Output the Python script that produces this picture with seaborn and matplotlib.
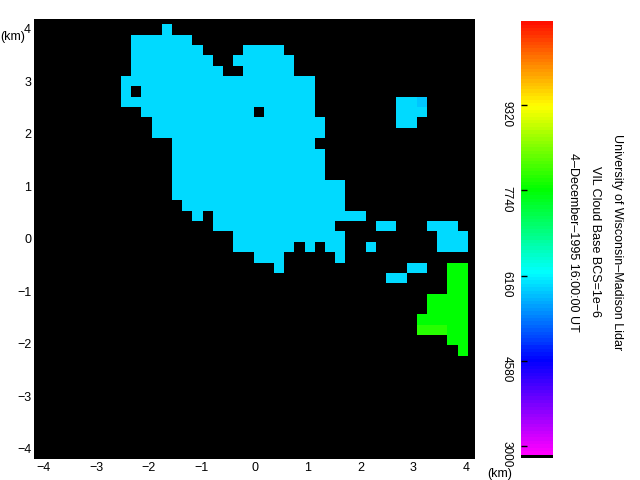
import numpy as np
import pandas as pd
import matplotlib
matplotlib.use("Agg")
import matplotlib.pyplot as plt
from matplotlib.colors import LinearSegmentedColormap, ListedColormap
import seaborn as sns

# --- Data: cloud base grid, one character per cell, top row first ---
# . = no return, c = cyan, d = darker cyan, g = green, l = light green
GRID_ROWS = [
    "............................................",
    ".............c..............................",
    "..........cccccc............................",
    "..........ccccccc....cccc...................",
    "..........cccccccc..cccccc..................",
    "..........ccccccccc..ccccc..................",
    ".........ccccccccccccccccccc................",
    ".........c.ccccccccccccccccc................",
    ".........ccccccccccccccccccc........ccd.....",
    "...........ccccccccccc.ccccc........ccc.....",
    "............ccccccccccccccccc.......cc......",
    "............ccccccccccccccccc...............",
    "..............cccccccccccccc................",
    "..............ccccccccccccccc...............",
    "..............ccccccccccccccc...............",
    "..............ccccccccccccccc...............",
    "..............ccccccccccccccccc.............",
    "..............ccccccccccccccccc.............",
    "...............cccccccccccccccc.............",
    "................c.ccccccccccccccc...........",
    "..................cccccccccccc....cc...ccc..",
    "....................ccccccccccc.........ccc.",
    "....................cccccc.c.cc..c......ccc.",
    "......................ccc.....c.............",
    "........................c............cc..gg.",
    "...................................cc....gg.",
    ".........................................gg.",
    ".......................................gggg.",
    ".......................................gggg.",
    "......................................ggggg.",
    "......................................lllgg.",
    ".........................................gg.",
    "..........................................g.",
    "............................................",
    "............................................",
    "............................................",
    "............................................",
    "............................................",
    "............................................",
    "............................................",
    "............................................",
    "............................................",
    "............................................",
]
N_COLS = 44
assert all(len(r) == N_COLS for r in GRID_ROWS), [len(r) for r in GRID_ROWS]

CELL_VALUES = {".": 2778, "c": 5950, "d": 5850, "g": 7740, "l": 7980}
VMIN, VMAX = 2778, 10877
CBAR_TICKS = [3000, 4580, 6160, 7740, 9320]
KM_TICKS = [-4, -3, -2, -1, 0, 1, 2, 3, 4]
KM_LABELS = ["\u22124", "\u22123", "\u22122", "\u22121", "0", "1", "2", "3", "4"]

RAINBOW = ["#ff00ff", "#0000ff", "#00ffff", "#00ff00", "#ffff00", "#ff1000"]
RAINBOW_POS = [0.0, 0.213, 0.418, 0.613, 0.808, 1.0]

TITLE_LINES = [
    "University of Wisconsin\u2013Madison Lidar",
    "VIL Cloud Base BCS=1e\u22126",
    "4\u2013December\u20131995 16:00:00 UT",
]

# --- Colormap: rainbow with a black bottom bin for empty cells ---
rainbow = LinearSegmentedColormap.from_list("lidar", list(zip(RAINBOW_POS, RAINBOW)))
colors = rainbow(np.linspace(0, 1, 127))
cmap = ListedColormap(np.vstack([[0, 0, 0, 1], colors]))

df = pd.DataFrame([[CELL_VALUES[ch] for ch in row] for row in GRID_ROWS])

plt.rcParams["font.family"] = ["Liberation Sans", "DejaVu Sans"]

fig = plt.figure(figsize=(6.4, 4.8), dpi=100)
ax = fig.add_axes([0.053, 0.044, 0.689, 0.916])
cax = fig.add_axes([0.814, 0.046, 0.050, 0.910])

sns.heatmap(df, ax=ax, cbar_ax=cax, cmap=cmap, vmin=VMIN, vmax=VMAX,
            xticklabels=False, yticklabels=False,
            cbar_kws={"ticks": CBAR_TICKS})

# cell index <-> km
ax.set_xlim(0.47, 43.7)
ax.set_ylim(42.95, 0.52)
ax.set_xticks([22.12 + k * 5.186 for k in KM_TICKS])
ax.set_xticklabels(KM_LABELS)
ax.set_yticks([21.71 - k * 5.063 for k in KM_TICKS])
ax.set_yticklabels(KM_LABELS)
ax.tick_params(length=0, labelsize=9, pad=2)
ax.set_xlabel("")
ax.set_ylabel("")

cbar = ax.collections[0].colorbar
cbar.outline.set_visible(False)
cax.yaxis.set_ticks_position("left")
cax.yaxis.set_label_position("left")
cax.tick_params(direction="in", length=4.5, width=1, color="black",
                labelsize=8.5, labelrotation=270, pad=6)

fig.text(0.001, 0.922, "(km)", ha="left", va="center", fontsize=9)
fig.text(0.780, 0.013, "(km)", ha="center", va="center", fontsize=9)

for x, line in zip([0.964, 0.930, 0.895], TITLE_LINES):
    fig.text(x, 0.496, line, rotation=270, ha="center", va="center", fontsize=9)

fig.savefig("out.png", dpi=100)
